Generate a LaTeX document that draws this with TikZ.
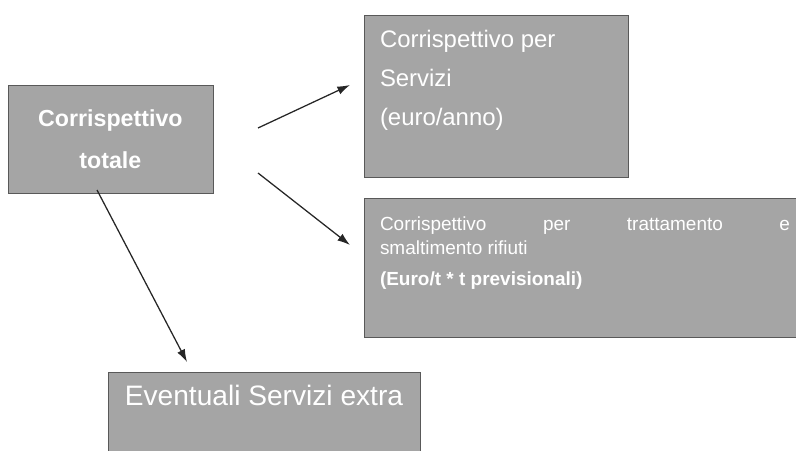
\documentclass[tikz,border=0pt]{standalone}
\usepackage{fontspec}
\setmainfont{Liberation Sans}
\usetikzlibrary{arrows.meta}
\definecolor{boxgray}{RGB}{165,165,165}

\begin{document}
\begin{tikzpicture}
\tikzstyle{box}=[
	rectangle,
	fill=boxgray,
	draw=gray!70!black,
	line width=0.3pt,
	text=white,
	inner sep=0pt ]
\tikzstyle{link}=[-{Latex[length=9pt,width=6pt]}, line width=0.9pt, black!85]
\useasboundingbox (0,0) rectangle (19.9,11.25);
\node[box, minimum width=5.125cm, minimum height=2.7cm, align=center,
	font=\bfseries\fontsize{16.5}{30}\selectfont] (tot) at (2.76,7.78) {Corrispettivo\\totale};
\node[box, inner xsep=0.4cm] (serv) at (12.4,8.85)
	{\parbox[c][4.05cm][t]{5.8cm}{\fontsize{17}{27.7}\selectfont\vspace*{11pt}Corrispettivo per\\Servizi\\(euro/anno)}};
\node[box, inner xsep=0.4cm] (smalt) at (14.625,4.5625)
	{\parbox[c][3.475cm][t]{10.25cm}{\fontsize{13.5}{17.7}\selectfont\vspace*{13pt}Corrispettivo\hfill per\hfill trattamento\hfill e\\
	smaltimento rifiuti\\[4pt]
	\textbf{(Euro/t * t previsionali)}}};
\node[box] (extra) at (6.6,0.95)
	{\parbox[c][2cm][t]{7.8cm}{\centering\fontsize{20}{22}\selectfont\vspace*{9pt}Eventuali Servizi extra}};
\coordinate (t1) at (6.45,8.05);
\coordinate (h1) at (8.75,9.125);
\coordinate (t2) at (6.45,6.925);
\coordinate (h2) at (8.75,5.125);
\coordinate (t3) at (2.425,6.5);
\coordinate (h3) at (4.675,2.2);
\draw[link] (t1) -- (h1);
\draw[link] (t2) -- (h2);
\draw[link] (t3) -- (h3);
\end{tikzpicture}
\end{document}
